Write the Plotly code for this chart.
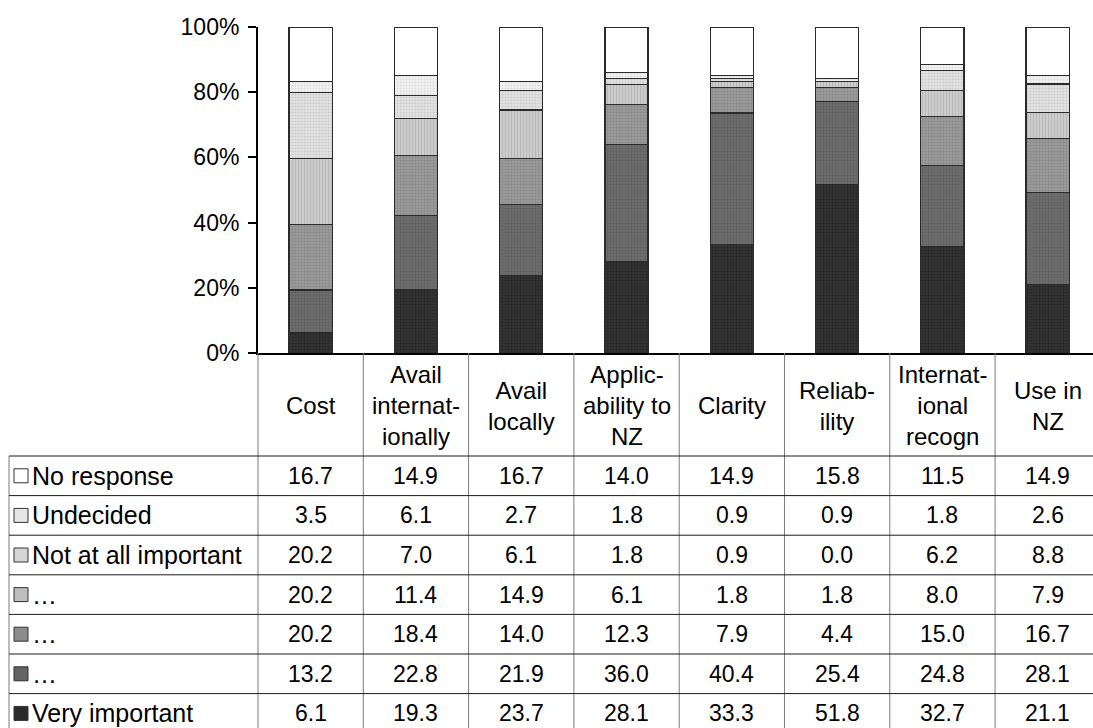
import plotly.graph_objects as go

# Criteria (column headers of the data table, hyphenated as printed)
categories = [
    "Cost",
    "Avail<br>internat-<br>ionally",
    "Avail<br>locally",
    "Applic-<br>ability to<br>NZ",
    "Clarity",
    "Reliab-<br>ility",
    "Internat-<br>ional<br>recogn",
    "Use in<br>NZ",
]

# Response shares (%) per criterion
no_response = [16.7, 14.9, 16.7, 14.0, 14.9, 15.8, 11.5, 14.9]
undecided = [3.5, 6.1, 2.7, 1.8, 0.9, 0.9, 1.8, 2.6]
not_at_all = [20.2, 7.0, 6.1, 1.8, 0.9, 0.0, 6.2, 8.8]
level_4 = [20.2, 11.4, 14.9, 6.1, 1.8, 1.8, 8.0, 7.9]
level_3 = [20.2, 18.4, 14.0, 12.3, 7.9, 4.4, 15.0, 16.7]
level_2 = [13.2, 22.8, 21.9, 36.0, 40.4, 25.4, 24.8, 28.1]
very_important = [6.1, 19.3, 23.7, 28.1, 33.3, 51.8, 32.7, 21.1]

row_labels = ["No response", "Undecided", "Not at all important",
              "\u2026", "\u2026", "\u2026", "Very important"]
y_ticks = [0, 20, 40, 60, 80, 100]
y_tick_text = [f"{v}%" for v in y_ticks]

# Series listed top row first (same order as the table)
series = [
    (row_labels[0], no_response, "#ffffff", None, "#ffffff"),
    (row_labels[1], undecided, "#f2f2f2", dict(shape=".", fgcolor="#c4c4c4", size=3, solidity=0.35), "#e6e6e6"),
    (row_labels[2], not_at_all, "#e2e2e2", dict(shape=".", fgcolor="#b4b4b4", size=3, solidity=0.35), "#d6d6d6"),
    (row_labels[3], level_4, "#cfcfcf", dict(shape="|", fgcolor="#a2a2a2", size=3, solidity=0.4), "#bdbdbd"),
    (row_labels[4], level_3, "#9a9a9a", dict(shape=".", fgcolor="#767676", size=3, solidity=0.35), "#8c8c8c"),
    (row_labels[5], level_2, "#6c6c6c", dict(shape=".", fgcolor="#545454", size=3, solidity=0.35), "#646464"),
    (row_labels[6], very_important, "#343434", dict(shape=".", fgcolor="#151515", size=3, solidity=0.4), "#2a2a2a"),
]

FONT = "Liberation Sans, Arial, sans-serif"
FS_TICK, FS_HEAD, FS_VAL, FS_ROW = 23, 24, 23, 25
W, H = 1093, 728
L, T = 258, 27          # plot area left / top (px)
X_END, Y_BASE = 1093, 353
PW, PH = X_END - L, Y_BASE - T
N_VISIBLE = 7.93        # category slots that fit in the plot width

HEADER_BOTTOM = 456
ROW_H = 39.6
TABLE_LEFT = 9


def px_x(px):
    return (px - L) / PW


def px_y(py):
    return (Y_BASE - py) / PH


fig = go.Figure()

# Stack from the bottom ("Very important") upwards
for name, vals, color, pattern, _ in reversed(series):
    marker = dict(color=color, line=dict(color="#2b2b2b", width=1.3))
    if pattern:
        marker["pattern"] = dict(fillmode="overlay", **pattern)
    fig.add_trace(go.Bar(x=categories, y=vals, name=name, marker=marker,
                         showlegend=False, hoverinfo="skip"))

shapes = []
annotations = []
line_dark = dict(color="#1a1a1a", width=1)
line_grey = dict(color="#7a7a7a", width=1)

# Column dividers running from the axis down through the table
for k in range(len(categories) - 1):
    shapes.append(dict(type="line", xref="x", yref="paper", x0=k + 0.5, x1=k + 0.5,
                       y0=0, y1=px_y(H + 5), line=line_grey))
shapes.append(dict(type="line", xref="paper", yref="paper", x0=0, x1=0,
                   y0=0, y1=px_y(H + 5), line=line_grey))
# Left border of the row-label column
shapes.append(dict(type="line", xref="paper", yref="paper", x0=px_x(TABLE_LEFT), x1=px_x(TABLE_LEFT),
                   y0=px_y(HEADER_BOTTOM), y1=px_y(H + 5), line=line_grey))

# Horizontal row rules
for r in range(len(series)):
    yy = HEADER_BOTTOM + r * ROW_H
    shapes.append(dict(type="line", xref="paper", yref="paper", x0=px_x(TABLE_LEFT), x1=1,
                       y0=px_y(yy), y1=px_y(yy), line=line_dark))

# Column headers
for cat in categories:
    annotations.append(dict(x=cat, xref="x", y=px_y((Y_BASE + HEADER_BOTTOM) / 2 + 1), yref="paper",
                            text=cat, showarrow=False, xanchor="center", yanchor="middle",
                            align="center", font=dict(family=FONT, size=FS_HEAD, color="#000")))

# Rows: legend key, label and values
for r, (name, vals, color, pattern, key_color) in enumerate(series):
    yc = HEADER_BOTTOM + (r + 0.5) * ROW_H
    shapes.append(dict(type="rect", xref="paper", yref="paper",
                       x0=px_x(14), x1=px_x(28), y0=px_y(yc - 7), y1=px_y(yc + 7),
                       fillcolor=key_color, line=dict(color="#333333", width=1)))
    annotations.append(dict(x=px_x(30), xref="paper", y=px_y(yc), yref="paper",
                            text=name, showarrow=False, xanchor="left", yanchor="middle",
                            font=dict(family=FONT, size=FS_ROW, color="#000")))
    for cat, v in zip(categories, vals):
        annotations.append(dict(x=cat, xref="x", y=px_y(yc), yref="paper",
                                text=f"{v:.1f}", showarrow=False, xanchor="center",
                                yanchor="middle",
                                font=dict(family=FONT, size=FS_VAL, color="#000")))

fig.update_layout(
    width=W, height=H,
    margin=dict(l=L, r=W - X_END, t=T, b=H - Y_BASE, pad=0),
    paper_bgcolor="white", plot_bgcolor="white",
    barmode="stack", barnorm="percent", bargap=0.59,
    font=dict(family=FONT, size=FS_TICK, color="#000"),
    shapes=shapes, annotations=annotations,
)
fig.update_xaxes(range=[-0.5, N_VISIBLE - 0.5], showticklabels=False, ticks="",
                 showline=True, linecolor="#000", linewidth=2, showgrid=False,
                 zeroline=False, fixedrange=True)
fig.update_yaxes(range=[0, 100], tickmode="array", tickvals=y_ticks, ticktext=y_tick_text,
                 ticks="outside", ticklen=8, tickwidth=2, tickcolor="#000", showline=True,
                 linecolor="#000", linewidth=2, showgrid=False, zeroline=False,
                 tickfont=dict(family=FONT, size=FS_TICK, color="#000"), ticklabelstandoff=4)

fig.write_html("out.html")
